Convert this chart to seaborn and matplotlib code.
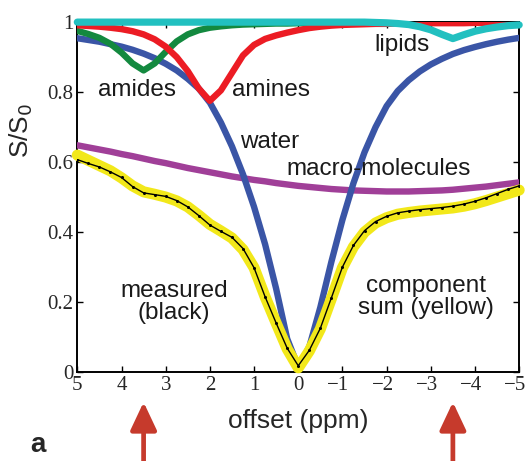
import matplotlib
matplotlib.use("Agg")
import matplotlib.pyplot as plt
import matplotlib.transforms as mtransforms
import seaborn as sns
import pandas as pd

# Saturation offsets (ppm)
offset = [5.0, 4.75, 4.5, 4.25, 4.0, 3.75, 3.5, 3.25, 3.0, 2.75, 2.5, 2.25, 2.0,
          1.75, 1.5, 1.25, 1.0, 0.75, 0.5, 0.25, 0.0, -0.25, -0.5, -0.75, -1.0,
          -1.25, -1.5, -1.75, -2.0, -2.25, -2.5, -2.75, -3.0, -3.25, -3.5, -3.75,
          -4.0, -4.25, -4.5, -4.75, -5.0]

# Fitted pool components (S/S0)
water = [0.954, 0.949, 0.944, 0.937, 0.930, 0.921, 0.910, 0.897, 0.881, 0.862, 0.838,
         0.810, 0.770, 0.713, 0.645, 0.565, 0.472, 0.365, 0.238, 0.095, 0.015, 0.072,
         0.185, 0.315, 0.435, 0.540, 0.628, 0.700, 0.760, 0.803, 0.834, 0.859, 0.879,
         0.895, 0.909, 0.920, 0.929, 0.937, 0.944, 0.950, 0.955]
amides = [0.975, 0.966, 0.955, 0.938, 0.913, 0.882, 0.862, 0.882, 0.915, 0.945, 0.965,
          0.977, 0.984, 0.988, 0.991, 0.993, 0.994, 0.995, 0.996, 0.996, 0.997, 0.997,
          0.997, 0.997, 0.998, 0.998, 0.998, 0.998, 0.998, 0.998, 0.998, 0.998, 0.998,
          0.998, 0.998, 0.998, 0.998, 0.998, 0.998, 0.998, 0.998]
amines = [0.991, 0.989, 0.987, 0.984, 0.980, 0.974, 0.965, 0.951, 0.930, 0.900, 0.860,
          0.810, 0.775, 0.805, 0.855, 0.905, 0.935, 0.952, 0.962, 0.970, 0.977, 0.983,
          0.987, 0.990, 0.992, 0.993, 0.994, 0.995, 0.995, 0.996, 0.996, 0.996, 0.997,
          0.997, 0.997, 0.997, 0.998, 0.998, 0.998, 0.998, 0.998]
lipids = [1.0, 1.0, 1.0, 1.0, 1.0, 1.0, 1.0, 1.0, 1.0, 1.0, 1.0, 1.0, 1.0, 1.0, 1.0,
          1.0, 1.0, 1.0, 1.0, 1.0, 1.0, 1.0, 1.0, 1.0, 1.0, 1.0, 1.0, 0.999, 0.998,
          0.996, 0.993, 0.987, 0.978, 0.965, 0.953, 0.964, 0.974, 0.981, 0.986, 0.990,
          0.992]
macro = [0.648, 0.642, 0.636, 0.630, 0.623, 0.617, 0.610, 0.603, 0.597, 0.590, 0.583,
         0.577, 0.571, 0.565, 0.559, 0.554, 0.549, 0.545, 0.540, 0.536, 0.532, 0.529,
         0.526, 0.523, 0.521, 0.519, 0.518, 0.517, 0.516, 0.516, 0.516, 0.517, 0.518,
         0.519, 0.521, 0.524, 0.527, 0.530, 0.534, 0.538, 0.542]
comp_sum = [0.620, 0.605, 0.590, 0.575, 0.555, 0.532, 0.515, 0.508, 0.500, 0.489, 0.472,
            0.448, 0.422, 0.403, 0.383, 0.350, 0.298, 0.215, 0.140, 0.066, 0.012, 0.060,
            0.123, 0.210, 0.298, 0.358, 0.400, 0.426, 0.441, 0.451, 0.456, 0.460, 0.463,
            0.466, 0.469, 0.474, 0.481, 0.490, 0.500, 0.510, 0.520]
measured = [0.607, 0.596, 0.586, 0.572, 0.556, 0.530, 0.512, 0.507, 0.502, 0.490, 0.472,
            0.447, 0.420, 0.402, 0.385, 0.353, 0.298, 0.215, 0.140, 0.068, 0.018, 0.062,
            0.125, 0.212, 0.300, 0.362, 0.404, 0.430, 0.445, 0.455, 0.460, 0.464, 0.467,
            0.470, 0.474, 0.480, 0.488, 0.498, 0.510, 0.522, 0.532]

xticks = [5, 4, 3, 2, 1, 0, -1, -2, -3, -4, -5]
xticklabels = ["5", "4", "3", "2", "1", "0", "\u22121", "\u22122", "\u22123", "\u22124", "\u22125"]
yticks = [0, 0.2, 0.4, 0.6, 0.8, 1.0]
yticklabels = ["0", "0.2", "0.4", "0.6", "0.8", "1"]
arrow_offsets = [3.5, -3.5]

df = pd.DataFrame({"offset": offset, "water": water, "amides": amides,
                   "amines": amines, "lipids": lipids, "macro": macro,
                   "sum": comp_sum, "measured": measured})

sns.set_style("ticks")
plt.rcParams["font.family"] = ["Liberation Sans", "DejaVu Sans"]

fig = plt.figure(figsize=(5.26, 4.61), dpi=100)
ax = fig.add_axes([0.147, 0.193, 0.840, 0.759])

line_w = 4.6
sns.lineplot(data=df, x="offset", y="macro", color="#a03f98", lw=line_w, ax=ax, zorder=2)
sns.lineplot(data=df, x="offset", y="water", color="#3a55a6", lw=line_w, ax=ax, zorder=3)
sns.lineplot(data=df, x="offset", y="amides", color="#13893f", lw=line_w, ax=ax, zorder=4)
sns.lineplot(data=df, x="offset", y="amines", color="#ec1c24", lw=line_w, ax=ax, zorder=5)
sns.lineplot(data=df, x="offset", y="lipids", color="#22c0c0", lw=line_w + 0.6, ax=ax,
             zorder=6, clip_on=False)
sns.lineplot(data=df, x="offset", y="sum", color="#f2e81a", lw=8.0, ax=ax, zorder=7,
             clip_on=False)
sns.lineplot(data=df, x="offset", y="measured", color="black", lw=1.0, marker="o",
             markersize=2.2, markeredgewidth=0, ax=ax, zorder=8)

ax.set_xlim(5, -5)
ax.set_ylim(0, 1)
ax.set_xticks(xticks)
ax.set_xticklabels(xticklabels, family="Liberation Serif", fontsize=15)
ax.set_yticks(yticks)
ax.set_yticklabels(yticklabels, family="Liberation Serif", fontsize=15)
ax.tick_params(direction="in", length=4, width=1.0, top=True, right=True, pad=3,
               color="black")
# negative labels hang their minus sign to the left of the tick
shift = mtransforms.ScaledTranslation(-4 / 100, 0, fig.dpi_scale_trans)
for lab in ax.get_xticklabels():
    if lab.get_text().startswith("\u2212"):
        lab.set_transform(lab.get_transform() + shift)
for s in ax.spines.values():
    s.set_linewidth(1.4)
    s.set_color("black")
    s.set_zorder(1)

ax.set_xlabel("offset (ppm)", fontsize=19, labelpad=10)
ax.set_ylabel("S/S$_0$", fontsize=19)
ax.yaxis.set_label_coords(-0.095, 0.69)

txt = dict(fontsize=17.5, ha="center", va="center", color="#1a1a1a", zorder=10)
ax.text(3.64, 0.806, "amides", **txt)
ax.text(0.62, 0.806, "amines", **txt)
ax.text(0.64, 0.658, "water", **txt)
ax.text(-1.81, 0.58, "macro-molecules", **txt)
ax.text(-2.34, 0.934, "lipids", **txt)
ax.text(2.81, 0.201, "measured\n(black)", linespacing=1.0, multialignment="center", **txt)
ax.text(-2.89, 0.215, "component\nsum (yellow)", linespacing=1.0,
        multialignment="center", **txt)

for xa in arrow_offsets:
    ax.annotate("", xy=(xa, -0.086), xytext=(xa, -0.32),
                xycoords=("data", "axes fraction"), textcoords=("data", "axes fraction"),
                annotation_clip=False,
                arrowprops=dict(arrowstyle="-|>,head_length=0.85,head_width=0.4",
                                mutation_scale=20, lw=3.4, color="#c63a2c",
                                shrinkA=0, shrinkB=0))

fig.text(0.072, 0.02, "a", fontsize=20, fontweight="bold", ha="center", va="baseline")

fig.savefig("out.png", dpi=100)
